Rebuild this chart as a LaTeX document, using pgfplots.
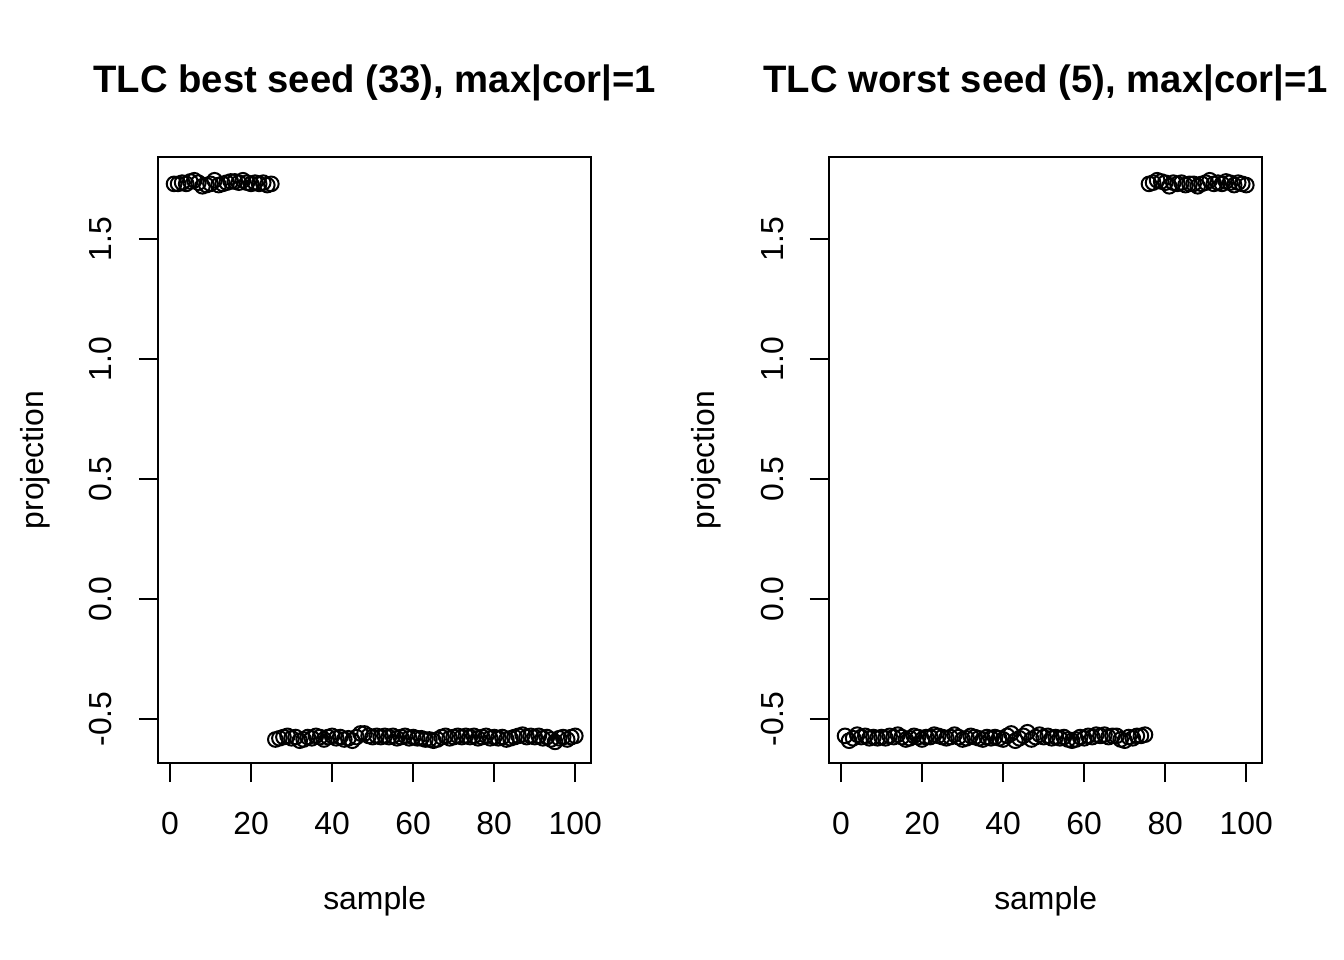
\documentclass[border=0pt]{standalone}
\usepackage{fontspec}
\setmainfont{Liberation Sans}
\usepackage{pgfplots}
\pgfplotsset{compat=1.18}
\usepackage{pgfplotstable}

\pgfplotstableread{
x y
1 1.73
2 1.73
3 1.735
4 1.73
5 1.74
6 1.745
7 1.735
8 1.72
9 1.725
10 1.73
11 1.745
12 1.725
13 1.73
14 1.735
15 1.74
16 1.74
17 1.735
18 1.745
19 1.735
20 1.73
21 1.735
22 1.73
23 1.735
24 1.725
25 1.73
26 -0.585
27 -0.58
28 -0.575
29 -0.57
30 -0.58
31 -0.575
32 -0.59
33 -0.585
34 -0.575
35 -0.58
36 -0.57
37 -0.575
38 -0.585
39 -0.575
40 -0.57
41 -0.58
42 -0.575
43 -0.585
44 -0.58
45 -0.59
46 -0.575
47 -0.56
48 -0.56
49 -0.57
50 -0.575
51 -0.57
52 -0.575
53 -0.57
54 -0.575
55 -0.57
56 -0.58
57 -0.575
58 -0.57
59 -0.58
60 -0.575
61 -0.58
62 -0.58
63 -0.585
64 -0.585
65 -0.59
66 -0.585
67 -0.575
68 -0.57
69 -0.58
70 -0.575
71 -0.57
72 -0.575
73 -0.57
74 -0.575
75 -0.57
76 -0.58
77 -0.575
78 -0.57
79 -0.58
80 -0.575
81 -0.58
82 -0.575
83 -0.585
84 -0.58
85 -0.575
86 -0.57
87 -0.565
88 -0.575
89 -0.57
90 -0.575
91 -0.57
92 -0.58
93 -0.575
94 -0.585
95 -0.595
96 -0.58
97 -0.575
98 -0.585
99 -0.575
100 -0.57
}\best

\pgfplotstableread{
x y
1 -0.57
2 -0.59
3 -0.58
4 -0.565
5 -0.575
6 -0.57
7 -0.58
8 -0.575
9 -0.58
10 -0.575
11 -0.58
12 -0.57
13 -0.575
14 -0.565
15 -0.575
16 -0.585
17 -0.58
18 -0.57
19 -0.575
20 -0.585
21 -0.575
22 -0.575
23 -0.565
24 -0.57
25 -0.575
26 -0.58
27 -0.575
28 -0.565
29 -0.575
30 -0.585
31 -0.58
32 -0.57
33 -0.575
34 -0.58
35 -0.585
36 -0.575
37 -0.58
38 -0.575
39 -0.58
40 -0.585
41 -0.57
42 -0.56
43 -0.59
44 -0.58
45 -0.57
46 -0.555
47 -0.585
48 -0.575
49 -0.565
50 -0.575
51 -0.57
52 -0.58
53 -0.575
54 -0.58
55 -0.575
56 -0.585
57 -0.59
58 -0.585
59 -0.575
60 -0.58
61 -0.57
62 -0.575
63 -0.565
64 -0.57
65 -0.565
66 -0.575
67 -0.57
68 -0.57
69 -0.585
70 -0.59
71 -0.575
72 -0.58
73 -0.57
74 -0.57
75 -0.565
76 1.73
77 1.735
78 1.745
79 1.74
80 1.735
81 1.72
82 1.735
83 1.73
84 1.735
85 1.725
86 1.73
87 1.73
88 1.72
89 1.73
90 1.735
91 1.745
92 1.73
93 1.735
94 1.73
95 1.74
96 1.735
97 1.725
98 1.735
99 1.73
100 1.725
}\worst

\pgfplotsset{
  rstyle/.style={
    anchor=south west,
    scale only axis,
    width=162.5bp,
    height=227.25bp,
    xmin=-2.96, xmax=103.96,
    ymin=-0.683, ymax=1.842,
    axis line style={line width=0.75bp},
    every tick/.style={line width=0.75bp, black},
    tick align=outside,
    major tick length=7.2bp,
    xtick pos=bottom, ytick pos=left,
    xtick={0,20,40,60,80,100},
    xticklabels={0,20,40,60,80,100},
    ytick={-0.5,0,0.5,1,1.5},
    yticklabels={-0.5,0.0,0.5,1.0,1.5},
    tick label style={font=\fontsize{12}{14.4}\selectfont},
    xticklabel style={anchor=base, inner sep=0pt},
    yticklabel style={rotate=90, anchor=base, inner sep=0pt},
    xticklabel shift=19.6bp,
    yticklabel shift=10.05bp,
    clip=false,
  },
  rmark/.style={only marks, mark=o, mark size=2.75bp, mark options={line width=0.75bp, black}},
}
\tikzset{
  rlabel/.style={font=\fontsize{12}{14.4}\selectfont, inner sep=0pt},
  rtitle/.style={font=\bfseries\fontsize{14.4}{17}\selectfont, inner sep=0pt, anchor=base},
}

\begin{document}
\begin{tikzpicture}
\useasboundingbox (0,0) rectangle (504bp,360bp);
\begin{axis}[rstyle, at={(59.25bp,73.875bp)}]
\addplot[rmark] table[x=x,y=y] {\best};
\node[rtitle] at ([yshift=24bp]rel axis cs:0.5,1) {TLC best seed (33), max|cor|=1};
\node[rlabel, anchor=base] at ([yshift=-55bp]rel axis cs:0.5,0) {sample};
\node[rlabel, anchor=base, rotate=90] at ([xshift=-43.1bp]rel axis cs:0,0.5) {projection};
\end{axis}
\begin{axis}[rstyle, at={(310.875bp,73.875bp)}]
\addplot[rmark] table[x=x,y=y] {\worst};
\node[rtitle] at ([yshift=24bp]rel axis cs:0.5,1) {TLC worst seed (5), max|cor|=1};
\node[rlabel, anchor=base] at ([yshift=-55bp]rel axis cs:0.5,0) {sample};
\node[rlabel, anchor=base, rotate=90] at ([xshift=-43.1bp]rel axis cs:0,0.5) {projection};
\end{axis}
\end{tikzpicture}
\end{document}
